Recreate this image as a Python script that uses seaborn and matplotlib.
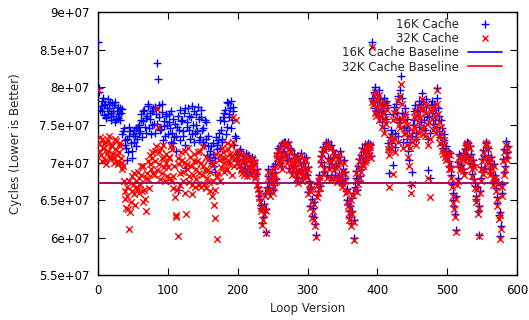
import numpy as np
import pandas as pd
import matplotlib
matplotlib.use('Agg')
import matplotlib.pyplot as plt
from matplotlib.lines import Line2D
import seaborn as sns

# loop versions, split into even and odd ones
versions_even = list(range(0, 588, 2))
versions_odd = list(range(1, 588, 2))

# cycles in millions
cycles_16k_even = [
    86.0, 79.9, 77.5, 78.2, 76.3, 77.8, 76.0, 78.5, 77.2, 76.6,
    77.9, 76.2, 78.0, 75.8, 77.4, 76.5, 75.6, 77.1, 74.2, 73.0,
    72.0, 70.3, 73.5, 74.2, 71.5, 73.8, 72.8, 74.6, 73.2, 75.0,
    74.2, 76.4, 75.5, 77.0, 74.0, 76.2, 77.5, 75.8, 73.8, 76.8,
    75.2, 77.4, 83.3, 81.1, 76.0, 74.5, 77.8, 75.5, 73.5, 76.2,
    73.8, 75.4, 76.8, 74.0, 72.6, 75.2, 73.5, 66.3, 74.4, 77.0,
    75.6, 73.6, 77.2, 69.3, 74.8, 76.2, 73.2, 77.5, 75.0, 72.8,
    76.4, 74.2, 75.8, 73.4, 77.0, 74.6, 72.4, 75.4, 71.0, 73.6,
    70.4, 72.2, 71.2, 69.5, 68.7, 71.8, 73.0, 72.0, 74.4, 73.2,
    75.5, 77.0, 74.8, 77.9, 76.4, 78.2, 75.6, 77.4, 73.6, 73.3,
    71.0, 69.8, 71.5, 68.9, 70.4, 69.2, 71.3, 68.4, 70.6, 69.7,
    70.8, 69.0, 70.0, 68.5, 67.3, 66.2, 65.1, 63.9, 62.8, 64.5,
    60.7, 66.7, 69.1, 65.9, 67.6, 69.5, 67.0, 68.7, 70.9, 72.0,
    69.9, 70.7, 72.6, 71.5, 72.8, 70.3, 72.7, 69.3, 71.7, 68.7,
    71.1, 69.7, 68.1, 70.5, 68.9, 71.3, 67.9, 69.9, 68.5, 70.7,
    69.4, 67.5, 66.5, 65.1, 63.9, 62.7, 60.3, 65.7, 67.9, 66.9,
    70.9, 72.1, 69.5, 72.7, 68.3, 72.8, 70.5, 68.1, 71.7, 69.3,
    71.1, 67.7, 69.9, 71.5, 68.5, 67.1, 70.3, 67.9, 66.5, 64.5,
    62.7, 65.3, 63.5, 59.9, 66.7, 68.9, 67.5, 70.5, 69.1, 72.0,
    69.9, 72.5, 70.7, 72.6, 71.3, 72.5, 86.0, 78.2, 80.0, 76.8,
    79.0, 76.2, 78.4, 75.4, 77.2, 78.6, 75.8, 77.6, 68.6, 73.4,
    72.6, 69.7, 77.4, 72.1, 76.6, 78.8, 75.4, 81.5, 78.6, 74.6,
    76.4, 73.2, 71.6, 74.4, 67.0, 68.7, 75.6, 77.6, 74.0, 76.2,
    78.2, 75.4, 79.2, 78.0, 74.4, 77.4, 69.0, 76.2, 67.9, 78.2,
    75.2, 77.0, 74.8, 79.9, 76.2, 73.4, 74.6, 72.0, 73.0, 71.0,
    70.9, 69.5, 71.3, 68.3, 66.0, 64.2, 61.0, 67.3, 70.1, 70.9,
    69.7, 71.3, 68.7, 70.5, 72.8, 72.6, 69.9, 71.1, 68.5, 69.7,
    66.9, 65.1, 63.6, 60.4, 67.9, 70.5, 71.7, 69.3, 72.8, 72.0,
    70.3, 68.7, 69.5, 67.3, 68.3, 66.6, 64.6, 63.0, 60.2, 67.2,
    70.5, 68.8, 72.9, 71.4,
]
cycles_16k_odd = [
    79.4, 77.0, 76.8, 78.6, 77.6, 75.9, 77.3, 76.4, 78.0, 75.7,
    76.8, 77.6, 75.4, 76.9, 75.9, 77.2, 76.6, 73.8, 74.6, 72.4,
    73.2, 71.4, 74.8, 72.6, 70.6, 74.4, 73.6, 72.2, 74.8, 73.9,
    75.6, 73.4, 76.8, 74.8, 75.9, 77.8, 74.6, 76.6, 75.0, 77.3,
    73.9, 76.4, 75.1, 77.6, 74.3, 76.7, 73.0, 74.9, 76.5, 75.0,
    76.4, 74.6, 72.8, 75.8, 73.4, 71.6, 74.8, 76.2, 73.0, 75.5,
    74.2, 76.6, 72.4, 75.4, 77.3, 74.4, 76.0, 73.8, 76.8, 74.0,
    75.0, 77.4, 73.0, 76.0, 74.4, 72.8, 75.6, 73.2, 72.2, 70.8,
    71.6, 69.9, 72.6, 70.6, 73.4, 72.4, 74.0, 75.6, 72.8, 76.0,
    76.6, 73.8, 78.0, 76.0, 77.2, 74.6, 76.8, 72.4, 71.2, 70.2,
    70.3, 71.8, 69.4, 70.9, 68.8, 70.1, 69.1, 71.0, 68.8, 70.2,
    69.6, 70.4, 68.2, 69.2, 66.8, 65.6, 64.3, 62.0, 63.4, 65.9,
    63.8, 68.2, 66.6, 67.9, 68.6, 66.3, 69.8, 67.8, 71.3, 70.2,
    72.2, 69.5, 71.4, 72.8, 71.0, 72.4, 70.6, 71.9, 70.2, 69.5,
    70.2, 68.8, 70.9, 67.6, 70.1, 69.2, 68.6, 70.6, 69.4, 68.4,
    66.1, 64.2, 66.8, 62.9, 64.8, 61.8, 67.2, 66.2, 68.4, 70.1,
    71.5, 68.8, 71.8, 72.5, 70.6, 69.4, 72.3, 69.8, 70.8, 68.4,
    69.6, 70.8, 68.3, 70.4, 67.6, 69.2, 68.8, 66.2, 65.0, 63.6,
    64.2, 61.9, 66.0, 62.4, 67.9, 66.4, 69.6, 68.2, 71.0, 70.1,
    71.6, 70.4, 72.3, 71.7, 72.4, 70.9, 78.6, 79.4, 77.2, 78.0,
    77.0, 79.6, 76.8, 77.8, 74.6, 76.4, 78.2, 72.6, 71.8, 74.4,
    73.8, 76.4, 74.0, 77.8, 73.6, 75.8, 79.6, 76.6, 72.8, 77.2,
    74.8, 75.8, 70.4, 72.8, 73.6, 75.0, 76.8, 73.2, 77.0, 74.8,
    76.8, 77.8, 74.6, 75.6, 78.4, 76.0, 73.2, 74.0, 77.6, 76.6,
    77.8, 75.6, 78.6, 77.2, 74.2, 75.6, 72.4, 73.8, 71.6, 72.2,
    71.6, 70.2, 69.6, 67.2, 65.0, 63.2, 65.6, 68.0, 71.2, 69.4,
    70.8, 69.2, 71.8, 72.4, 71.1, 70.6, 72.2, 69.4, 70.4, 67.8,
    65.6, 66.8, 64.2, 66.2, 69.4, 68.8, 70.9, 72.6, 70.4, 71.0,
    69.2, 70.8, 68.3, 69.8, 67.8, 65.4, 67.4, 63.4, 61.6, 65.9,
    71.8, 69.6, 70.8, 72.2,
]
cycles_32k_even = [
    79.7, 72.5, 71.0, 73.2, 72.0, 70.4, 72.8, 71.5, 73.6, 70.8,
    72.2, 70.6, 71.8, 72.9, 70.2, 71.4, 72.6, 70.0, 69.6, 66.2,
    64.0, 66.8, 61.1, 63.4, 68.2, 67.0, 65.8, 67.6, 66.5, 68.0,
    67.2, 69.5, 64.7, 66.4, 63.5, 68.6, 67.8, 71.0, 69.2, 70.6,
    68.4, 71.5, 77.1, 74.8, 69.8, 72.0, 68.6, 70.8, 67.6, 71.2,
    69.4, 70.6, 67.5, 71.8, 68.2, 65.4, 63.0, 60.2, 69.8, 67.0,
    70.4, 68.8, 71.6, 63.2, 69.2, 67.4, 70.8, 65.8, 68.4, 71.2,
    67.8, 70.2, 68.6, 71.6, 66.8, 69.6, 67.2, 70.8, 68.0, 69.0,
    66.2, 70.0, 67.6, 64.3, 62.6, 59.8, 68.6, 71.0, 69.4, 72.0,
    68.8, 70.6, 69.2, 71.8, 70.2, 72.4, 68.4, 76.0, 70.6, 75.6,
    70.8, 69.6, 71.4, 68.6, 70.2, 69.0, 71.0, 68.2, 70.4, 69.4,
    70.6, 68.8, 69.8, 68.2, 67.0, 66.0, 64.8, 63.6, 62.4, 64.2,
    60.6, 66.4, 68.8, 65.6, 67.4, 69.2, 66.8, 68.4, 70.6, 71.6,
    69.6, 70.4, 72.4, 71.2, 72.6, 70.0, 72.5, 69.0, 71.4, 68.4,
    70.8, 69.4, 67.8, 70.2, 68.6, 71.0, 67.6, 69.6, 68.2, 70.4,
    69.1, 67.2, 66.2, 64.8, 63.6, 62.4, 60.1, 65.4, 67.6, 66.6,
    70.6, 71.8, 69.2, 72.4, 68.0, 72.6, 70.2, 67.8, 71.4, 69.0,
    70.8, 67.4, 69.6, 71.2, 68.2, 66.8, 70.0, 67.6, 66.2, 64.2,
    62.4, 65.0, 63.2, 59.7, 66.4, 68.6, 67.2, 70.2, 68.8, 71.7,
    69.6, 72.2, 70.4, 72.4, 71.0, 72.3, 85.4, 77.6, 79.4, 76.2,
    78.4, 75.6, 77.8, 74.8, 76.6, 78.0, 75.2, 77.0, 66.7, 72.6,
    71.8, 68.5, 76.6, 71.4, 75.8, 78.2, 74.6, 80.4, 77.8, 73.8,
    75.6, 72.4, 70.8, 73.6, 65.9, 67.2, 74.8, 76.8, 73.2, 75.4,
    77.4, 74.6, 78.4, 77.2, 73.6, 76.6, 68.0, 75.4, 65.4, 77.4,
    74.4, 76.2, 74.0, 79.6, 75.4, 72.6, 73.8, 71.2, 72.4, 70.4,
    70.6, 69.2, 71.0, 68.0, 65.6, 63.8, 60.8, 67.0, 69.8, 70.6,
    69.4, 71.0, 68.4, 70.2, 72.6, 72.4, 69.6, 70.8, 68.2, 69.4,
    66.6, 64.8, 63.2, 60.2, 67.6, 70.2, 71.4, 69.0, 72.6, 71.8,
    70.0, 68.4, 69.2, 67.0, 68.0, 66.2, 64.2, 62.5, 59.8, 66.8,
    70.2, 68.4, 72.4, 71.0,
]
cycles_32k_odd = [
    71.6, 73.4, 70.2, 71.9, 72.6, 69.8, 71.2, 73.0, 70.6, 72.4,
    71.2, 69.9, 73.1, 71.0, 69.8, 72.2, 70.6, 69.2, 67.6, 65.2,
    65.6, 63.8, 67.6, 64.8, 66.2, 68.6, 64.4, 66.8, 68.8, 66.0,
    68.4, 66.2, 69.6, 65.2, 68.0, 70.2, 66.6, 69.8, 71.4, 68.6,
    70.2, 72.2, 69.0, 71.4, 67.8, 70.6, 72.4, 69.4, 70.0, 68.2,
    70.8, 68.0, 72.2, 66.6, 69.6, 62.8, 66.4, 70.6, 68.6, 71.4,
    67.6, 70.0, 66.0, 69.8, 72.0, 68.2, 69.6, 67.0, 70.2, 66.8,
    69.2, 71.4, 67.0, 70.0, 68.4, 72.2, 69.0, 66.6, 70.4, 67.4,
    68.8, 65.6, 69.8, 66.4, 71.2, 68.2, 70.4, 67.6, 70.6, 71.4,
    70.0, 69.0, 72.6, 69.8, 71.2, 70.8, 72.8, 69.6, 71.6, 70.0,
    70.0, 71.4, 69.0, 70.6, 68.4, 69.8, 68.8, 70.6, 68.4, 69.8,
    69.3, 70.1, 67.9, 68.9, 66.5, 65.3, 64.0, 61.7, 63.1, 65.6,
    63.5, 67.9, 66.3, 67.6, 68.3, 66.0, 69.5, 67.5, 71.0, 69.9,
    71.9, 69.2, 71.1, 72.5, 70.7, 72.2, 70.3, 71.6, 69.9, 69.2,
    69.9, 68.5, 70.6, 67.3, 69.8, 68.9, 68.3, 70.3, 69.1, 68.1,
    65.8, 63.9, 66.5, 62.6, 64.5, 61.5, 66.9, 65.9, 68.1, 69.8,
    71.2, 68.5, 71.5, 72.3, 70.3, 69.1, 72.0, 69.5, 70.5, 68.1,
    69.3, 70.5, 68.0, 70.1, 67.3, 68.9, 68.5, 65.9, 64.7, 63.3,
    63.9, 61.6, 65.7, 62.1, 67.6, 66.1, 69.3, 67.9, 70.7, 69.8,
    71.3, 70.1, 72.0, 71.4, 72.1, 70.6, 78.0, 78.8, 76.6, 77.4,
    76.4, 79.0, 76.2, 77.2, 74.0, 75.8, 77.6, 71.8, 71.0, 73.6,
    73.0, 75.6, 73.2, 77.0, 72.8, 75.0, 78.8, 75.8, 72.0, 76.4,
    74.0, 75.0, 69.6, 72.0, 72.8, 74.2, 76.0, 72.4, 76.2, 74.0,
    76.0, 77.0, 73.8, 74.8, 77.6, 75.2, 72.4, 73.2, 76.8, 75.8,
    77.0, 74.8, 77.8, 76.4, 73.4, 74.8, 71.6, 73.0, 70.8, 71.4,
    71.2, 69.8, 69.2, 66.8, 64.6, 62.8, 65.2, 67.6, 70.8, 69.0,
    70.5, 68.9, 71.5, 72.2, 70.8, 70.3, 71.9, 69.1, 70.1, 67.5,
    65.3, 66.5, 63.9, 65.9, 69.1, 68.5, 70.6, 72.4, 70.1, 70.7,
    68.9, 70.5, 68.0, 69.5, 67.5, 65.1, 67.1, 63.0, 61.2, 65.5,
    71.4, 69.2, 70.4, 71.8,
]
baseline_16k = 67.22
baseline_32k = 67.22
baseline_span = [0, 587]

df = pd.DataFrame({
    'version': versions_even + versions_odd,
    'c16': np.array(cycles_16k_even + cycles_16k_odd) * 1e6,
    'c32': np.array(cycles_32k_even + cycles_32k_odd) * 1e6,
})

sns.set_style('ticks')
plt.rcParams['font.family'] = ['DejaVu Sans']

fig = plt.figure(figsize=(5.29, 3.20), dpi=100)
ax = fig.add_axes([0.1853, 0.1397, 0.7920, 0.8219])

sns.scatterplot(data=df, x='version', y='c16', marker='+', color='blue',
                s=32, linewidth=1.0, ax=ax, legend=False, zorder=3)
sns.scatterplot(data=df, x='version', y='c32', marker='x', color='red',
                s=22, linewidth=1.0, ax=ax, legend=False, zorder=4)
sns.lineplot(x=baseline_span, y=[baseline_16k * 1e6] * 2, color='blue',
             linewidth=1.2, ax=ax, legend=False, zorder=5)
sns.lineplot(x=baseline_span, y=[baseline_32k * 1e6] * 2, color='red',
             linewidth=1.2, alpha=0.7, ax=ax, legend=False, zorder=6)

ax.set_xlim(0, 600)
ax.set_ylim(5.5e7, 9e7)
ax.set_xticks(range(0, 601, 100))
ax.set_yticks(np.arange(5.5e7, 9.01e7, 0.5e7))
ax.set_yticklabels(['5.5e+07', '6e+07', '6.5e+07', '7e+07', '7.5e+07',
                    '8e+07', '8.5e+07', '9e+07'])
ax.tick_params(direction='in', length=5, width=0.8, labelsize=8.5,
               top=True, right=True, colors='black')
ax.tick_params(axis='y', pad=6)
ax.tick_params(axis='x', pad=6)
for sp in ax.spines.values():
    sp.set_visible(True)
    sp.set_linewidth(1.0)
    sp.set_color('black')

ax.set_xlabel('Loop Version', fontsize=8.5, labelpad=4)
ax.set_ylabel('Cycles (Lower is Better)', fontsize=8.5, labelpad=12)

handles = [
    Line2D([], [], marker='+', color='blue', linestyle='none', markersize=5.5, markeredgewidth=1.0),
    Line2D([], [], marker='x', color='red', linestyle='none', markersize=4.5, markeredgewidth=1.0),
    Line2D([], [], color='blue', linewidth=1.2),
    Line2D([], [], color='red', linewidth=1.2),
]
labels = ['16K Cache', '32K Cache', '16K Cache Baseline', '32K Cache Baseline']
leg = ax.legend(handles, labels, loc='upper right', bbox_to_anchor=(0.964, 0.978),
                frameon=False, markerfirst=False, fontsize=8.5,
                handlelength=2.9, handletextpad=0.75, labelspacing=0.1,
                borderpad=0, borderaxespad=0)
for col in leg._legend_handle_box.get_children():
    col.align = 'right'

fig.savefig('out.png', dpi=100)
